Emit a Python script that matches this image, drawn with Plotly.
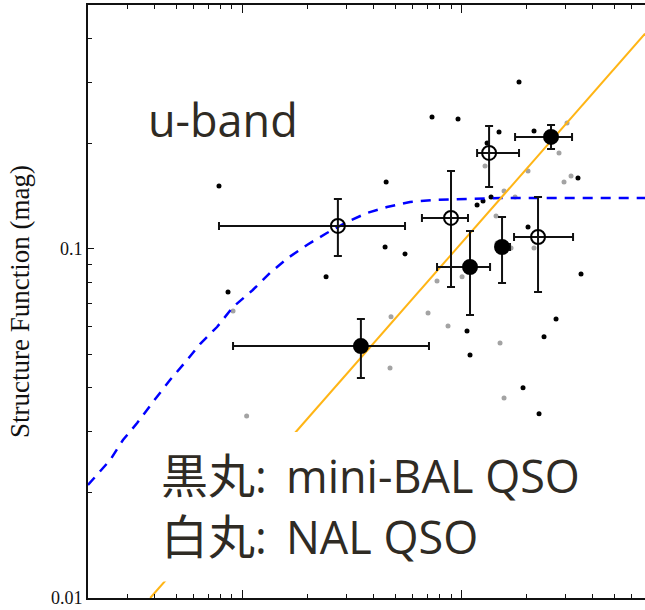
import plotly.graph_objects as go

# ---- data ----
# time lag (x, log axis) and structure function (y, mag)
gray_x = [9.10, 47.9, 70.7, 87.2, 47.4, 10.5, 150.7, 157.2, 304.8, 280.2, 128.7,
          202.2, 317.9, 295.3, 157.2, 176.5, 144.5, 215.4, 146.0, 77.7, 101.1, 169.2]
gray_y = [0.0664, 0.0639, 0.0656, 0.0602, 0.0456, 0.0332, 0.0538, 0.0374, 0.2296,
          0.1884, 0.1729, 0.1673, 0.1619, 0.1556, 0.1466, 0.1409, 0.1243, 0.1007,
          0.1040, 0.0810, 0.0832, 0.1007]

black_x = [7.85, 8.63, 24.2, 45.5, 45.0, 55.5, 73.7, 96.9, 184.0, 149.1, 215.4, 131.5,
           342.0, 137.1, 126.0, 118.4, 202.2, 353.0, 106.5, 271.6, 239.3, 109.9, 191.9, 227.1]
black_y = [0.1516, 0.0753, 0.0832, 0.1556, 0.1013, 0.0968, 0.2389, 0.2358, 0.3010,
           0.2163, 0.2178, 0.2012, 0.1597, 0.1409, 0.1372, 0.1337, 0.1156, 0.0848,
           0.0582, 0.0630, 0.0560, 0.0497, 0.0400, 0.0337]

# mini-BAL QSO (filled circles)
mb_x = [34.9, 109.9, 153.9, 257.6]
mb_x_lo = [9.1, 77.7, 144.5, 176.5]
mb_x_hi = [71.4, 135.7, 167.4, 321.3]
mb_y = [0.0527, 0.0888, 0.1013, 0.2094]
mb_y_lo = [0.0427, 0.0647, 0.0799, 0.1934]
mb_y_hi = [0.0630, 0.1126, 0.1235, 0.2266]

# NAL QSO (open circles)
nal_x = [27.4, 90.0, 134.3, 224.7]
nal_x_lo = [7.85, 66.3, 118.4, 174.6]
nal_x_hi = [55.5, 107.6, 184.0, 324.7]
nal_y = [0.1164, 0.1227, 0.1884, 0.1082]
nal_y_lo = [0.0955, 0.0778, 0.1506, 0.0753]
nal_y_hi = [0.1390, 0.1673, 0.2251, 0.1409]

# blue dashed model curve
curve_x = [1.98, 2.50, 2.86, 3.32, 3.92, 4.69, 5.61, 6.43, 7.69, 9.10, 11.2, 13.4,
           16.2, 19.8, 24.4, 30.2, 37.2, 45.9, 58.5, 74.5, 151.0, 692.0]
curve_y = [0.02108, 0.02485, 0.02836, 0.03171, 0.03643, 0.04213, 0.04806, 0.05341,
           0.05976, 0.06822, 0.07628, 0.08534, 0.09423, 0.1027, 0.1111, 0.1195,
           0.1268, 0.1319, 0.1364, 0.1381, 0.140, 0.140]

# orange straight fit line
fit_x = [3.81, 692.0]
fit_y = [0.01, 0.414]

y_tickvals = [0.01, 0.1]
y_ticktext = ["0.01", "0.1"]
y_minor = [0.02, 0.03, 0.04, 0.05, 0.06, 0.07, 0.08, 0.09, 0.2, 0.3, 0.4]
x_tickvals = [10, 100]
x_minor = [2, 3, 4, 5, 6, 7, 8, 9, 20, 30, 40, 50, 60, 70, 80, 90,
           200, 300, 400, 500, 600]

title_text = "u-band"
legend_lines = [("黒丸", ":\u2009 mini-BAL QSO"), ("白丸", ":\u2009 NAL QSO")]
y_title = "Structure Function (mag)"

# ---- figure ----
fig = go.Figure()

fig.add_trace(go.Scatter(x=gray_x, y=gray_y, mode="markers",
                         marker=dict(size=5, color="#a3a3a3"), showlegend=False))
fig.add_trace(go.Scatter(x=black_x, y=black_y, mode="markers",
                         marker=dict(size=5, color="#000000"), showlegend=False))
fig.add_trace(go.Scatter(x=curve_x, y=curve_y, mode="lines",
                         line=dict(color="#0000ff", width=2.5, dash="10px,8px"),
                         showlegend=False))
fig.add_trace(go.Scatter(x=fit_x, y=fit_y, mode="lines",
                         line=dict(color="#ffb515", width=2), showlegend=False))


def err(v, lo, hi):
    return [h - c for c, h in zip(v, hi)], [c - l for c, l in zip(v, lo)]


for xs, xlo, xhi, ys, ylo, yhi, sym in [
    (nal_x, nal_x_lo, nal_x_hi, nal_y, nal_y_lo, nal_y_hi, "circle-open"),
    (mb_x, mb_x_lo, mb_x_hi, mb_y, mb_y_lo, mb_y_hi, "circle"),
]:
    exp, exm = err(xs, xlo, xhi)
    eyp, eym = err(ys, ylo, yhi)
    fig.add_trace(go.Scatter(
        x=xs, y=ys, mode="markers",
        marker=dict(symbol=sym, size=14, color="#000000",
                    line=dict(width=2, color="#000000")),
        error_x=dict(type="data", symmetric=False, array=exp, arrayminus=exm,
                     thickness=2, width=4, color="#111111"),
        error_y=dict(type="data", symmetric=False, array=eyp, arrayminus=eym,
                     thickness=2, width=4, color="#111111"),
        showlegend=False))

txt_color = "#2f2b24"
lat_font = "Open Sans, Noto Sans CJK JP"

fig.add_shape(type="rect", xref="paper", yref="paper",
              x0=0.111, x1=0.92, y0=0.028, y1=0.28,
              fillcolor="white", line=dict(width=0), layer="above")

fig.add_annotation(text=title_text, xref="paper", yref="paper", x=0.105, y=0.807,
                   xanchor="left", yanchor="middle", showarrow=False,
                   font=dict(family=lat_font, size=45, color=txt_color))

legend_html = "<br>".join(
    f"<span style='font-family:Noto Sans CJK JP;font-size:47px'>{c}</span>"
    f"<span style='font-size:45px'>{l}</span>" for c, l in legend_lines)
fig.add_annotation(text=legend_html, xref="paper", yref="paper", x=0.128, y=0.16,
                   xanchor="left", yanchor="middle", align="left", showarrow=False,
                   font=dict(family=lat_font, size=47, color=txt_color))

fig.update_xaxes(type="log", range=[0.2968, 2.840],
                 showline=True, linecolor="#111111", linewidth=2, mirror="ticks",
                 ticks="inside", ticklen=8, tickwidth=1.2, tickcolor="#111111",
                 tickvals=x_tickvals, showticklabels=False, showgrid=False,
                 zeroline=False,
                 minor=dict(tickvals=x_minor, ticks="inside", ticklen=4,
                            tickwidth=1.2, tickcolor="#111111", showgrid=False))
fig.update_yaxes(type="log", range=[-2, -0.301],
                 showline=True, linecolor="#111111", linewidth=2, mirror=False,
                 ticks="inside", ticklen=6, tickwidth=1.2, tickcolor="#111111",
                 tickvals=y_tickvals, ticktext=y_ticktext, showgrid=False,
                 zeroline=False, ticklabelstandoff=0,
                 tickfont=dict(family="Liberation Serif, Times New Roman, serif",
                               size=18, color="#111111"),
                 title=dict(text=y_title, standoff=13,
                            font=dict(family="Liberation Serif, Times New Roman, serif",
                                      size=27, color="#111111")),
                 minor=dict(tickvals=y_minor, ticks="inside", ticklen=4,
                            tickwidth=1.2, tickcolor="#111111", showgrid=False))

fig.update_layout(width=645, height=610,
                  margin=dict(l=88, r=0, t=5, b=12, autoexpand=False),
                  plot_bgcolor="white", paper_bgcolor="white")

fig.write_html("out.html", config={"displayModeBar": False},
               post_script="document.body.style.margin='0px';document.body.style.padding='0px';")
